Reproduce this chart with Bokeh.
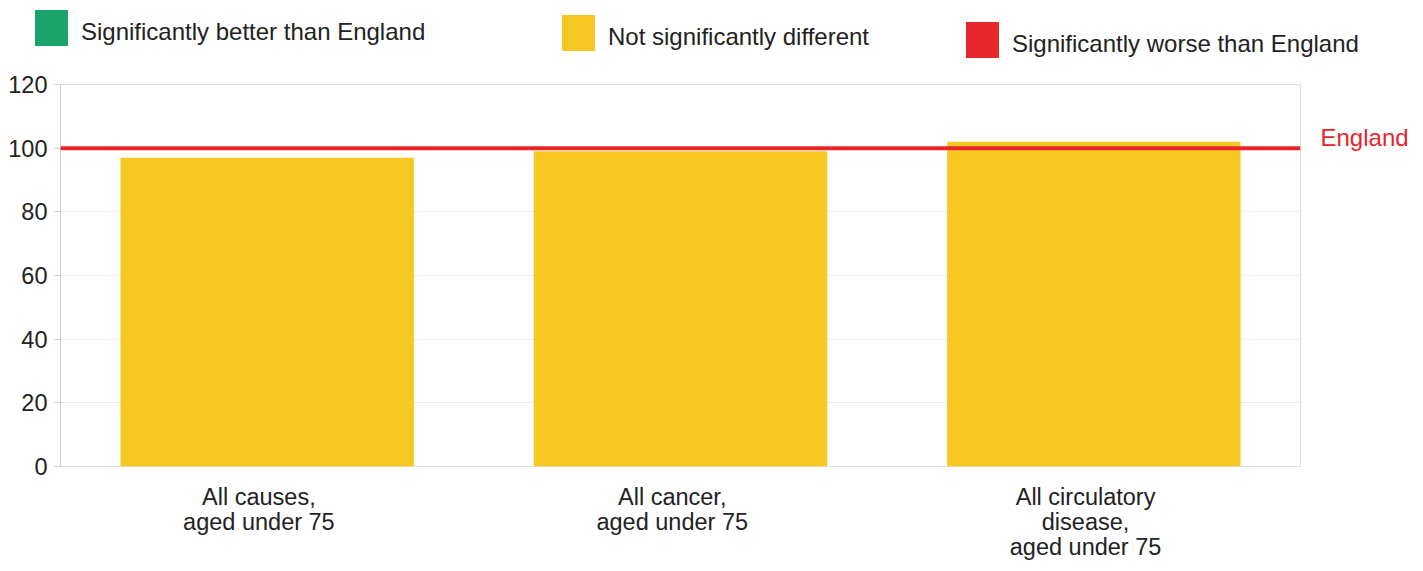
from bokeh.plotting import figure
from bokeh.models import (Range1d, Span, FixedTicker, ColumnDataSource, LinearAxis, Div)
from bokeh.layouts import column
from bokeh.embed import file_html
from bokeh.resources import INLINE

# ---- data ----
categories = ["All causes,\naged under 75",
              "All cancer,\naged under 75",
              "All circulatory\ndisease,\naged under 75"]
values = [97, 99, 102]
england_value = 100
england_label = "England"
y_ticks = [0, 20, 40, 60, 80, 100, 120]
legend_labels = ["Significantly better than England",
                 "Not significantly different",
                 "Significantly worse than England"]
legend_colors = ["#1ba36c", "#f6c623", "#e8272c"]

FONT = "Liberation Sans"
BAR_COLOR = "#f8c822"
RED = "#e8252b"
TEXT = "#222222"

# ---- legend (HTML strip above the chart) ----
leg_left = [35, 562, 966]
leg_top = [10, 15, 22]
parts = []
for lab, col, lx, ty in zip(legend_labels, legend_colors, leg_left, leg_top):
    parts.append(
        f'<div style="position:absolute;left:{lx}px;top:{ty}px;width:33px;height:36px;'
        f'background:{col};"></div>'
        f'<div style="position:absolute;left:{lx + 46}px;top:{ty + 8}px;line-height:28px;'
        f'white-space:nowrap;">{lab}</div>')
legend_html = (f'<div style="position:relative;width:1423px;height:72px;'
               f'font-family:\'{FONT}\';font-size:24px;color:{TEXT};">' + "".join(parts) + "</div>")
legend_div = Div(text=legend_html, width=1423, height=72, margin=0)

# ---- main chart ----
xs = [i + 0.5 for i in range(len(categories))]
src = ColumnDataSource(dict(x=xs, top=values))

p = figure(frame_width=1240, frame_height=382, x_range=Range1d(0, 3), y_range=Range1d(0, 120),
           output_backend="svg", toolbar_location=None,
           min_border_left=60, min_border_right=123, min_border_top=12, min_border_bottom=105)
p.vbar(x="x", top="top", width=0.71, source=src, fill_color=BAR_COLOR, line_color=None)

p.xgrid.grid_line_color = None
p.ygrid.grid_line_color = "#ececec"
p.outline_line_color = "#dddddd"

p.yaxis.ticker = FixedTicker(ticks=y_ticks)
p.yaxis.axis_line_color = "#cccccc"
p.yaxis.major_tick_line_color = "#cccccc"
p.yaxis.major_tick_out = 6
p.yaxis.major_tick_in = 0
p.yaxis.minor_tick_line_color = None
p.yaxis.major_label_standoff = 7
p.yaxis.major_label_text_font = FONT
p.yaxis.major_label_text_font_size = "23.5px"
p.yaxis.major_label_text_color = TEXT

label_pos = [x - 0.02 for x in xs]
p.xaxis.ticker = FixedTicker(ticks=label_pos)
p.xaxis.major_label_overrides = {lp: c for lp, c in zip(label_pos, categories)}
p.xaxis.major_label_text_font = FONT
p.xaxis.major_label_text_font_size = "23.5px"
p.xaxis.major_label_text_color = TEXT
p.xaxis.major_label_text_line_height = 0.97
p.xaxis.axis_line_color = None
p.xaxis.major_tick_line_color = None
p.xaxis.minor_tick_line_color = None
p.xaxis.major_tick_out = 0
p.xaxis.major_tick_in = 0
p.xaxis.major_label_standoff = 17

p.add_layout(Span(location=england_value, dimension="width", line_color=RED, line_width=4))
p.extra_y_ranges = {"eng": Range1d(-3.5, 116.5)}
eng_axis = LinearAxis(y_range_name="eng", ticker=FixedTicker(ticks=[england_value]),
                      major_label_overrides={england_value: england_label},
                      axis_line_color=None, major_tick_line_color=None,
                      minor_tick_line_color=None, major_tick_in=0, major_tick_out=0,
                      major_label_standoff=20, major_label_text_font=FONT,
                      major_label_text_font_size="24px", major_label_text_color=RED)
p.add_layout(eng_axis, "right")

layout = column(legend_div, p, spacing=0)
open("out.html", "w").write(file_html(layout, INLINE))
